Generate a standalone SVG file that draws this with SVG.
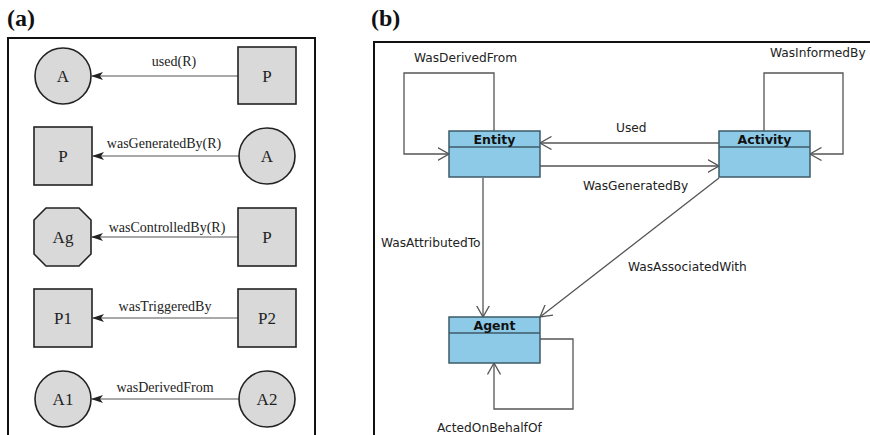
<svg xmlns="http://www.w3.org/2000/svg" width="870" height="435" viewBox="0 0 870 435">
<style>
.ttl{font-family:"Liberation Serif",serif;font-weight:bold;font-size:24px;fill:#111}
.frame{fill:none;stroke:#111;stroke-width:2}
.shp{fill:#d9d9d9;stroke:#222;stroke-width:1.6}
.nl{font-family:"Liberation Serif",serif;font-size:17px;fill:#222;text-anchor:middle}
.el{font-family:"Liberation Serif",serif;font-size:14px;fill:#222;text-anchor:middle}
.ea{stroke:#555;stroke-width:1.2;fill:none;marker-end:url(#barb)}
.box{fill:#8ccae7;stroke:#3d5a68;stroke-width:1.5}
.div{stroke:#3d5a68;stroke-width:1.5}
.bl{font-family:"DejaVu Sans",sans-serif;font-weight:bold;font-size:12.5px;fill:#111;text-anchor:middle}
.eb{stroke:#555;stroke-width:1.3;fill:none;marker-end:url(#open)}
.lb{font-family:"DejaVu Sans",sans-serif;font-size:12.2px;fill:#222}
</style>
<defs>
<marker id="barb" viewBox="0 0 12 8" refX="11" refY="4" markerWidth="12" markerHeight="8" markerUnits="userSpaceOnUse" orient="auto">
<path d="M0,0 L12,4 L0,8 L3,4 Z" fill="#222"/>
</marker>
<marker id="open" viewBox="0 0 12 14" refX="11.5" refY="7" markerWidth="12" markerHeight="14" markerUnits="userSpaceOnUse" orient="auto">
<path d="M0,0.5 L11.5,7 L0,13.5" fill="none" stroke="#555" stroke-width="1.3"/>
</marker>
</defs>

<text class="ttl" x="7" y="26">(a)</text>
<path class="frame" d="M8,436 V38 H315 V436"/>

<g id="a-connectors">
<line class="ea" x1="238" y1="76" x2="92" y2="76"/>
<text class="el" x="174" y="66">used(R)</text>
<line class="ea" x1="239" y1="156" x2="93" y2="156"/>
<text class="el" x="164" y="148">wasGeneratedBy(R)</text>
<line class="ea" x1="238" y1="237" x2="92" y2="237"/>
<text class="el" x="167" y="232">wasControlledBy(R)</text>
<line class="ea" x1="238" y1="318" x2="93" y2="318"/>
<text class="el" x="165" y="311">wasTriggeredBy</text>
<line class="ea" x1="239" y1="399" x2="92" y2="399"/>
<text class="el" x="165" y="392">wasDerivedFrom</text>
</g>

<g id="a-A1"><circle class="shp" cx="63" cy="76" r="28"/><text class="nl" x="63" y="82">A</text></g>
<g id="a-P1"><rect class="shp" x="238" y="47" width="58" height="57"/><text class="nl" x="267" y="82">P</text></g>
<g id="a-P2"><rect class="shp" x="34" y="127" width="58" height="58"/><text class="nl" x="63" y="162">P</text></g>
<g id="a-A2"><circle class="shp" cx="267" cy="156" r="28"/><text class="nl" x="267" y="162">A</text></g>
<g id="a-Ag"><polygon class="shp" points="46,208 79,208 91,220 91,254 79,266 46,266 34,254 34,220"/><text class="nl" x="63" y="243">Ag</text></g>
<g id="a-P3"><rect class="shp" x="238" y="208" width="58" height="58"/><text class="nl" x="267" y="243">P</text></g>
<g id="a-P1b"><rect class="shp" x="34" y="289" width="58" height="58"/><text class="nl" x="63" y="324">P1</text></g>
<g id="a-P2b"><rect class="shp" x="238" y="289" width="58" height="58"/><text class="nl" x="267" y="324">P2</text></g>
<g id="a-A1b"><circle class="shp" cx="63" cy="399" r="28"/><text class="nl" x="63" y="405">A1</text></g>
<g id="a-A2b"><circle class="shp" cx="267" cy="399" r="28"/><text class="nl" x="267" y="405">A2</text></g>

<text class="ttl" x="371" y="26">(b)</text>
<path class="frame" d="M374,436 V42 H871"/>

<g id="b-connectors">
<path class="eb" d="M494,131 V73 H404 V154 H449"/>
<text class="lb" x="414" y="62">WasDerivedFrom</text>
<path class="eb" d="M764,131 V73 H843 V154 H810"/>
<text class="lb" x="770" y="57">WasInformedBy</text>
<path class="eb" d="M719,143 H540"/>
<text class="lb" x="616" y="132">Used</text>
<path class="eb" d="M540,166 H719"/>
<text class="lb" x="583" y="190">WasGeneratedBy</text>
<path class="eb" d="M483,178 V317"/>
<text class="lb" x="381" y="247">WasAttributedTo</text>
<path class="eb" d="M719,178 L540,317"/>
<text class="lb" x="628" y="271">WasAssociatedWith</text>
<path class="eb" d="M540,339 H573 V409 H494 V363"/>
<text class="lb" x="437" y="432">ActedOnBehalfOf</text>
</g>

<g id="b-entity"><rect class="box" x="449" y="131" width="91" height="46"/><line class="div" x1="449" y1="147" x2="540" y2="147"/><text class="bl" x="494.5" y="144">Entity</text></g>
<g id="b-activity"><rect class="box" x="719" y="131" width="91" height="46"/><line class="div" x1="719" y1="147" x2="810" y2="147"/><text class="bl" x="764.5" y="144">Activity</text></g>
<g id="b-agent"><rect class="box" x="449" y="317" width="91" height="46"/><line class="div" x1="449" y1="333" x2="540" y2="333"/><text class="bl" x="494.5" y="330">Agent</text></g>
</svg>
